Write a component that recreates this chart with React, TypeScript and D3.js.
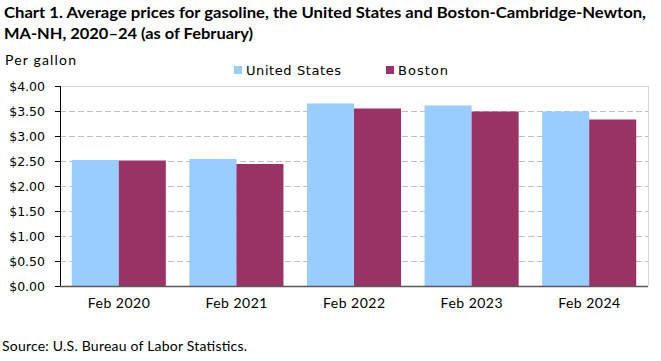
import React from "react";
import * as d3 from "d3";

const categories = ["Feb 2020", "Feb 2021", "Feb 2022", "Feb 2023", "Feb 2024"];
const usValues = [2.52, 2.54, 3.65, 3.61, 3.49];
const bostonValues = [2.51, 2.44, 3.55, 3.49, 3.33];
const seriesNames = ["United States", "Boston"];
const seriesColors = ["#99CCFF", "#993366"];
const yTicks = [0, 0.5, 1, 1.5, 2, 2.5, 3, 3.5, 4];

const W = 661;
const H = 361;
const plot = { left: 60, right: 648, top: 86, bottom: 286 };

export default function App() {
  const x = d3
    .scaleBand<string>()
    .domain(categories)
    .range([plot.left, plot.right])
    .paddingInner(0.2)
    .paddingOuter(0.1);
  const x1 = d3.scaleBand<string>().domain(seriesNames).range([0, x.bandwidth()]);
  const y = d3.scaleLinear().domain([0, 4]).range([plot.bottom, plot.top]);
  const fmt = d3.format("$.2f");
  const series = [usValues, bostonValues];
  const calibri = "Lato, 'Open Sans', sans-serif";
  const verdana = "'DejaVu Sans', Verdana, sans-serif";
  const legendX = [234, 386];
  const legendLen = [95, 50];

  return (
    <svg width={W} height={H} style={{ position: "absolute", left: 0, top: 0, background: "#fff" }}>
      <rect x={0} y={0} width={W} height={H} fill="#fff" />
      <text x={4} y={18} fontFamily={calibri} fontWeight="bold" fontSize={16} fill="#000" textLength={642} lengthAdjust="spacingAndGlyphs">
        Chart 1. Average prices for gasoline, the United States and Boston-Cambridge-Newton,
      </text>
      <text x={4} y={39} fontFamily={calibri} fontWeight="bold" fontSize={16} fill="#000" textLength={249} lengthAdjust="spacingAndGlyphs">
        MA-NH, 2020–24 (as of February)
      </text>
      <text x={5} y={65} fontFamily={calibri} fontSize={14} fill="#000" textLength={71} lengthAdjust="spacing">Per gallon</text>

      {seriesNames.map((n, i) => (
        <g key={n}>
          <rect x={legendX[i]} y={66} width={8} height={8} fill={seriesColors[i]} />
          <text x={legendX[i] + 12} y={75} fontFamily={verdana} fontSize={13} fill="#000" textLength={legendLen[i]} lengthAdjust="spacing">{n}</text>
        </g>
      ))}

      {/* plot border top/right */}
      <line x1={plot.left} x2={plot.right} y1={plot.top + 0.5} y2={plot.top + 0.5} stroke="#D9D9D9" />
      <line x1={plot.right + 0.5} x2={plot.right + 0.5} y1={plot.top} y2={plot.bottom} stroke="#D9D9D9" />

      {yTicks.filter((t) => t > 0 && t < 4).map((t) => (
        <line key={t} x1={plot.left} x2={plot.right} y1={Math.round(y(t)) + 0.5} y2={Math.round(y(t)) + 0.5} stroke="#C0C0C0" strokeDasharray="6,3" />
      ))}

      {categories.map((c, ci) => (
        <g key={c}>
          {series.map((vals, si) => (
            <rect
              key={si}
              x={(x(c) as number) + (x1(seriesNames[si]) as number)}
              y={y(vals[ci])}
              width={x1.bandwidth()}
              height={y(0) - y(vals[ci])}
              fill={seriesColors[si]}
            />
          ))}
          <text x={(x(c) as number) + x.bandwidth() / 2 - 31} y={308} fontFamily={calibri} fontSize={14} fill="#000" textLength={62} lengthAdjust="spacing">
            {c}
          </text>
        </g>
      ))}

      {/* axes */}
      <line x1={plot.left + 0.5} x2={plot.left + 0.5} y1={plot.top} y2={plot.bottom} stroke="#000" />
      {yTicks.map((t) => (
        <g key={t}>
          <line x1={plot.left - 5} x2={plot.left} y1={Math.round(y(t)) + 0.5} y2={Math.round(y(t)) + 0.5} stroke="#000" />
          <text x={45} y={y(t) + 4.5} textAnchor="end" fontFamily={verdana} fontSize={12.5} fill="#000">
            {fmt(t)}
          </text>
        </g>
      ))}
      <line x1={plot.left} x2={plot.right} y1={plot.bottom + 0.5} y2={plot.bottom + 0.5} stroke="#595959" strokeWidth={1.5} />

      <text x={2} y={351} fontFamily={calibri} fontSize={14} fill="#000" textLength={245} lengthAdjust="spacing">Source: U.S. Bureau of Labor Statistics.</text>
    </svg>
  );
}
